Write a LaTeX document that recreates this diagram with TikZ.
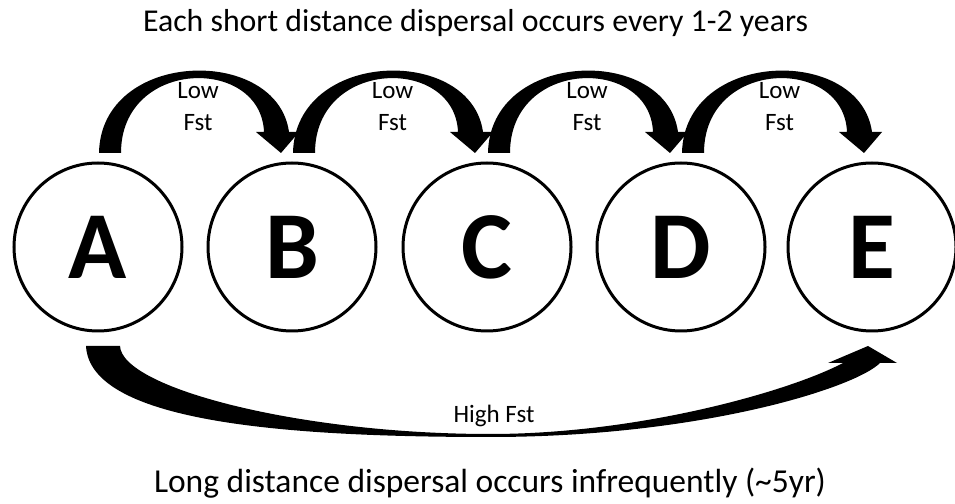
\documentclass[tikz,border=0pt]{standalone}
\usepackage{fontspec}
\setmainfont{Carlito}
\usepackage{tikz}
\usetikzlibrary{arrows.meta,calc}

\tikzset{
  pop/.style={circle, draw, line width=3pt, minimum size=168pt, inner sep=0pt,
    font=\fontsize{96}{96}\selectfont\bfseries},
  lbl/.style={align=center, font=\fontsize{25}{32}\selectfont},
  caption/.style={anchor=base, font=\fontsize{31.8}{37}\selectfont}
}

\begin{document}
\begin{tikzpicture}[x=1pt, y=1pt]
  \useasboundingbox (0,0) rectangle (955,503);
  % populations
  \foreach \n/\l/\x in {a/A/98, b/B/292, c/C/487, d/D/681, e/E/872}
    \node[pop] (\n) at (\x,256) {\l};
  % short distance hops (tapered curved arrows)
  \foreach \s/\t in {a/b, b/c, c/d, d/e} {
    \fill[shift={($(\s.north)+(1,8.5)$)}]
      (0,0) .. controls (2,104) and (178,108) .. (190,21)
      -- (200,21) -- (182,0) -- (157,21) -- (165,21)
      .. controls (162,97) and (22,95) .. (22,0) -- cycle;
    \node[lbl] at ($(\s)!0.5!(\t)+(3,140)$) {Low\\Fst};
  }
  % long distance dispersal (tapered arrow)
  \fill (86,157) .. controls (90,80) and (290,66) .. (490,66)
        .. controls (700,66) and (855,115) .. (880,140)
        -- (897,140) -- (868,157) -- (828,140) -- (843,140)
        .. controls (790,112) and (640,69) .. (490,69)
        .. controls (300,69) and (122,115) .. (120,157) -- cycle;
  \node[anchor=base, font=\fontsize{25}{30}\selectfont] at (494,80) {High Fst};
  \node[caption] at (475.5,471) {Each short distance dispersal occurs every 1-2 years};
  \node[caption, font=\fontsize{33.5}{39}\selectfont] at (490,10) {Long distance dispersal occurs infrequently (\textasciitilde5yr)};
\end{tikzpicture}
\end{document}
